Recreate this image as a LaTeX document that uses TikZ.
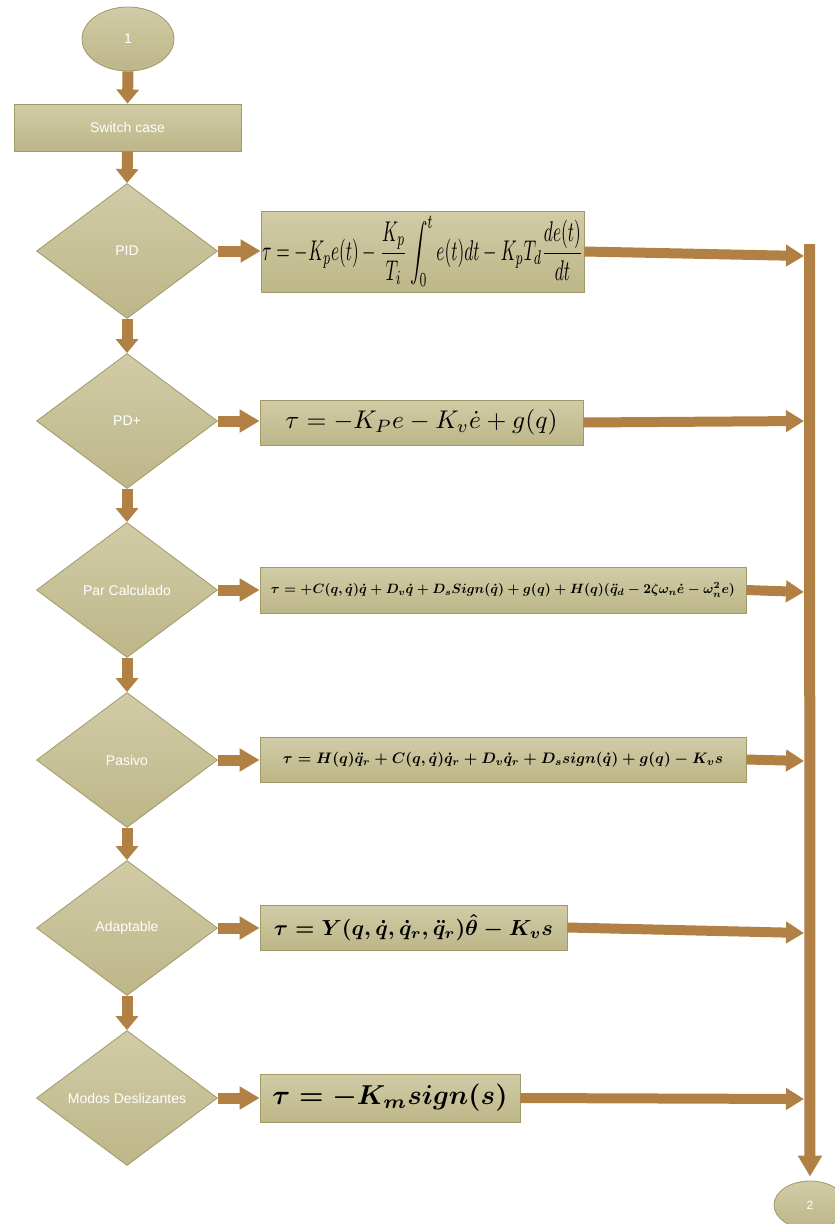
\documentclass[tikz,border=0pt]{standalone}
\usepackage{amsmath}
\usepackage{graphicx}
\usepackage{fontspec}
\setsansfont{Liberation Sans}
\usetikzlibrary{shapes.geometric,arrows.meta}
\definecolor{fillA}{RGB}{209,204,167}
\definecolor{fillB}{RGB}{189,182,136}
\definecolor{edgec}{RGB}{160,154,104}
\definecolor{arrowc}{RGB}{176,128,68}
\begin{document}
\begin{tikzpicture}[x=1pt,y=-1pt,
  shapebase/.style={draw=edgec, line width=0.8pt, top color=fillA, bottom color=fillB,
    text=white, font=\sffamily\fontsize{14}{16}\selectfont, inner sep=0pt},
  dec/.style={shapebase, diamond, minimum width=181pt, minimum height=135pt},
  term/.style={shapebase, ellipse, minimum width=92pt, minimum height=64pt},
  proc/.style={shapebase, rectangle, minimum width=227pt, minimum height=47pt},
  eqbox/.style={draw=edgec, line width=0.8pt, top color=fillA, bottom color=fillB,
    text=black, inner sep=0pt, rectangle},
  varrow/.style={draw=arrowc, line width=11pt, -{Triangle[length=14pt,width=22pt]}},
  harrow/.style={draw=arrowc, line width=11pt, -{Triangle[length=20pt,width=22pt]}},
  outarrow/.style={draw=arrowc, line width=10pt, -{Triangle[length=18pt,width=21pt]}},
  bararrow/.style={draw=arrowc, line width=11pt, -{Triangle[length=21pt,width=23pt]}, shorten >=4pt}]
\useasboundingbox (0,0) rectangle (835,1224);

% start / end terminals
\node[term] (n1) at (128,39) {1};
\node[proc] (sw) at (127.5,127.5) {Switch case};
\node[term, minimum width=72pt, minimum height=48pt, font=\sffamily\fontsize{12}{14}\selectfont] (n2) at (810,1205) {2};

% decisions
\node[dec] (pid)  at (127,251)  {PID};
\node[dec] (pdp)  at (127,421)  {PD+};
\node[dec] (par)  at (127,590)  {Par Calculado};
\node[dec] (pas)  at (127,760)  {Pasivo};
\node[dec] (ada)  at (127,928)  {Adaptable};
\node[dec] (mod)  at (127,1098) {Modos Deslizantes};

% equation boxes
\node[eqbox, minimum width=323pt, minimum height=81pt] (pidbox) at (422.5,251.5)
  {\resizebox*{321pt}{70pt}{$\tau = -K_p e(t) - \dfrac{K_p}{T_i}\displaystyle\int_0^t e(t)dt - K_p T_d \dfrac{de(t)}{dt}$}};
\node[eqbox, minimum width=323pt, minimum height=45pt] (pdpbox) at (421.5,422.5)
  {\resizebox{272pt}{!}{$\tau = -K_P e - K_v\dot{e} + g(q)$}};
\node[eqbox, minimum width=486pt, minimum height=46pt] (parbox) at (503,590)
  {\resizebox{464pt}{!}{\boldmath$\tau = +C(q,\dot{q})\dot{q} + D_v\dot{q} + D_s Sign(\dot{q}) + g(q) + H(q)(\ddot{q}_d - 2\zeta\omega_n\dot{e} - \omega_n^2 e)$}};
\node[eqbox, minimum width=486pt, minimum height=45pt] (pasbox) at (503,759.5)
  {\resizebox{440pt}{!}{\boldmath$\tau = H(q)\ddot{q}_r + C(q,\dot{q})\dot{q}_r + D_v\dot{q}_r + D_s sign(\dot{q}) + g(q) - K_v s$}};
\node[eqbox, minimum width=307pt, minimum height=45pt] (adabox) at (413.5,927.5)
  {\resizebox{279pt}{!}{\boldmath$\tau = Y(q,\dot{q},\dot{q}_r,\ddot{q}_r)\hat{\theta} - K_v s$}};
\node[eqbox, minimum width=260pt, minimum height=48pt] (modbox) at (390,1098)
  {\resizebox{235pt}{!}{\boldmath$\tau = -K_m sign(s)$}};

% vertical flow
\draw[varrow] (n1.south) -- (sw.north);
\draw[varrow] (sw.south) -- (pid.north);
\draw[varrow] (pid.south) -- (pdp.north);
\draw[varrow] (pdp.south) -- (par.north);
\draw[varrow] (par.south) -- (pas.north);
\draw[varrow] (pas.south) -- (ada.north);
\draw[varrow] (ada.south) -- (mod.north);

% decision -> equation
\draw[harrow] (pid.east) -- (pid.east -| pidbox.west);
\draw[harrow] (pdp.east) -- (pdp.east -| pdpbox.west);
\draw[harrow] (par.east) -- (par.east -| parbox.west);
\draw[harrow] (pas.east) -- (pas.east -| pasbox.west);
\draw[harrow] (ada.east) -- (ada.east -| adabox.west);
\draw[harrow] (mod.east) -- (mod.east -| modbox.west);

% collector bar
\coordinate (bartop) at (809.5,244);
\coordinate (e1) at (804,256);
\coordinate (e2) at (804,421);
\coordinate (e3) at (804,592);
\coordinate (e4) at (804,761);
\coordinate (e5) at (804,933);
\coordinate (e6) at (804,1099);
\draw[outarrow] (pidbox.east) -- (e1);
\draw[outarrow] (pdpbox.east) -- (e2);
\draw[outarrow] (parbox.east) -- (e3);
\draw[outarrow] (pasbox.east) -- (e4);
\draw[outarrow] (adabox.east) -- (e5);
\draw[outarrow] (modbox.east) -- (e6);
\draw[bararrow] (bartop) -- (n2.north);
\end{tikzpicture}
\end{document}
